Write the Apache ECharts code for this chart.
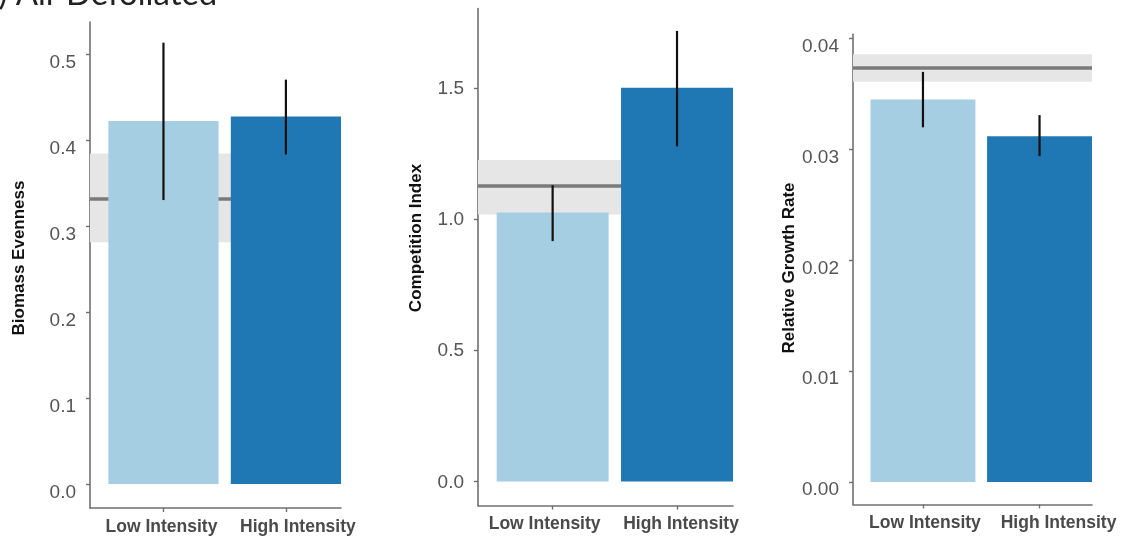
<!DOCTYPE html>
<html>
<head>
<meta charset="utf-8">
<script src="https://cdn.jsdelivr.net/npm/echarts@6/dist/echarts.min.js"></script>
<style>
  html, body { margin: 0; padding: 0; background: #fff; }
  #chart { width: 1123px; height: 540px; }
</style>
</head>
<body>
<div id="chart"></div>
<script>
// Treatment groups (x positions 1 and 2 on each panel)
const categories = ['Low Intensity', 'High Intensity'];

// Biomass evenness: means and error-bar limits, plus control mean and band
const evenness = [0.422, 0.427];
const evennessLow = [0.330, 0.383];
const evennessHigh = [0.513, 0.470];
const evennessControl = 0.331;
const evennessBand = [0.281, 0.384];
const evennessTicks = [0, 0.1, 0.2, 0.3, 0.4, 0.5];

// Competition index
const competition = [1.025, 1.500];
const competitionLow = [0.916, 1.277];
const competitionHigh = [1.129, 1.717];
const competitionControl = 1.125;
const competitionBand = [1.017, 1.225];
const competitionTicks = [0, 0.5, 1.0, 1.5];

// Relative growth rate
const growth = [0.0345, 0.0312];
const growthLow = [0.0320, 0.0294];
const growthHigh = [0.0370, 0.0331];
const growthControl = 0.0374;
const growthBand = [0.0361, 0.0386];
const growthTicks = [0, 0.01, 0.02, 0.03, 0.04];

const barColors = ['#a6cee3', '#1f78b4'];
const axisGrey = '#707070';
const labelGrey = '#555555';
const font = 'Liberation Sans, Arial, sans-serif';

const panels = [
  { title: 'Biomass Evenness', mean: evenness, lo: evennessLow, hi: evennessHigh,
    ctrl: evennessControl, band: evennessBand, ticks: evennessTicks, dec: 1,
    grid: { left: 90, top: 22, width: 251, height: 486 }, ymin: -0.028, ymax: 0.537,
    labelDrop: 9, catShift: [-2, 12], nameX: 19, nameY: 258 },
  { title: 'Competition Index', mean: competition, lo: competitionLow, hi: competitionHigh,
    ctrl: competitionControl, band: competitionBand, ticks: competitionTicks, dec: 1,
    grid: { left: 478, top: 8.6, width: 255, height: 497 }, ymin: -0.092, ymax: 1.802,
    labelDrop: 1, catShift: [-8, 4], nameX: 416, nameY: 238 },
  { title: 'Relative Growth Rate', mean: growth, lo: growthLow, hi: growthHigh,
    ctrl: growthControl, band: growthBand, ticks: growthTicks, dec: 2,
    grid: { left: 853, top: 34.4, width: 239, height: 470 }, ymin: -0.00201, ymax: 0.04038,
    labelDrop: 8, catShift: [2, 19], nameX: 789, nameY: 268 }
];

const grids = [], xAxes = [], yAxes = [], series = [], graphics = [];

panels.forEach((p, i) => {
  grids.push(Object.assign({ containLabel: false }, p.grid));

  // rich styles nudge each category label sideways
  const catRich = {};
  p.catShift.forEach((s, k) => {
    catRich['c' + k] = {
      color: '#4a4a4a', fontSize: 17.5, fontWeight: 'bold', fontFamily: font,
      padding: [0, s < 0 ? -2 * s : 0, 0, s > 0 ? 2 * s : 0]
    };
  });

  xAxes.push({
    type: 'value', gridIndex: i, min: 0.4, max: 2.45,
    splitLine: { show: false },
    axisLine: { show: true, onZero: false, lineStyle: { color: axisGrey, width: 1.6 } },
    axisTick: { show: true, customValues: [1, 2], length: 4, lineStyle: { color: axisGrey, width: 1.4 } },
    axisLabel: {
      customValues: [1, 2], margin: 10, hideOverlap: false,
      formatter: v => {
        const k = Math.round(v) - 1;
        return '{c' + k + '|' + categories[k] + '}';
      },
      rich: catRich
    }
  });

  yAxes.push({
    type: 'value', gridIndex: i, min: p.ymin, max: p.ymax,
    splitLine: { show: false },
    axisLine: { show: true, onZero: false, lineStyle: { color: axisGrey, width: 1.6 } },
    axisTick: { show: true, customValues: p.ticks, length: 4, lineStyle: { color: axisGrey, width: 1.4 } },
    axisLabel: {
      customValues: p.ticks, margin: 14, hideOverlap: false,
      formatter: v => '{t|' + v.toFixed(p.dec) + '}',
      rich: {
        t: { color: labelGrey, fontSize: 19, fontFamily: font, padding: [p.labelDrop * 2, 0, 0, 0] }
      }
    }
  });

  // control band and control mean line, spanning the whole panel, under the bars
  series.push({
    type: 'line', xAxisIndex: i, yAxisIndex: i, data: [], z: 1, silent: true,
    markArea: {
      silent: true, z: 1, itemStyle: { color: '#e6e6e6' },
      data: [[{ yAxis: p.band[0] }, { yAxis: p.band[1] }]]
    },
    markLine: {
      silent: true, z: 2, symbol: 'none', precision: 5, label: { show: false },
      lineStyle: { color: '#7a7a7a', width: 3.5, type: 'solid' },
      data: [{ yAxis: p.ctrl }]
    }
  });

  // bars
  series.push({
    type: 'custom', xAxisIndex: i, yAxisIndex: i, z: 3,
    data: p.mean.map((v, k) => [k + 1, v]),
    renderItem: (params, api) => {
      const x = api.value(0), v = api.value(1);
      const a = api.coord([x - 0.45, v]);
      const b = api.coord([x + 0.45, 0]);
      return {
        type: 'rect',
        shape: { x: a[0], y: a[1], width: b[0] - a[0], height: b[1] - a[1] },
        style: { fill: barColors[params.dataIndex] }
      };
    }
  });

  // error bars
  series.push({
    type: 'custom', xAxisIndex: i, yAxisIndex: i, z: 4,
    data: p.lo.map((v, k) => [k + 1, v, p.hi[k]]),
    renderItem: (params, api) => {
      const x = api.value(0);
      const a = api.coord([x, api.value(1)]);
      const b = api.coord([x, api.value(2)]);
      return {
        type: 'line',
        shape: { x1: a[0], y1: a[1], x2: b[0], y2: b[1] },
        style: { stroke: '#111', lineWidth: 2.2 }
      };
    }
  });

  graphics.push({
    type: 'text', x: p.nameX, y: p.nameY, rotation: Math.PI / 2,
    style: {
      text: p.title, fill: '#111', font: 'bold 17px "Liberation Sans", Arial, sans-serif',
      textAlign: 'center', textVerticalAlign: 'middle'
    }
  });
});

// panel heading, partly above the top edge
graphics.push({
  type: 'text', x: -19, y: -6,
  style: {
    text: 'b) All-Defoliated', fill: '#222', font: '33px Lato, "Open Sans", sans-serif',
    textAlign: 'left', textVerticalAlign: 'middle'
  }
});

const chart = echarts.init(document.getElementById('chart'), null, { renderer: 'canvas' });
chart.setOption({
  animation: false,
  grid: grids,
  xAxis: xAxes,
  yAxis: yAxes,
  series: series,
  graphic: graphics
});
</script>
</body>
</html>
